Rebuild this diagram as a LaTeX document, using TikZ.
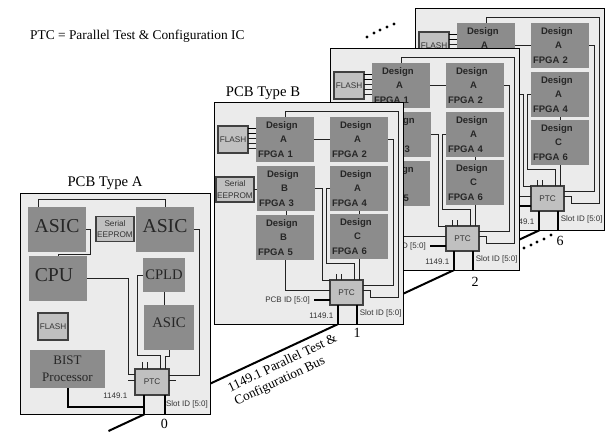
\documentclass[tikz,border=0pt]{standalone}
\usepackage{fontspec}
\setmainfont{Liberation Serif}
\setsansfont{Liberation Sans}
\usetikzlibrary{calc}
\definecolor{boardgray}{HTML}{EBEBEB}
\definecolor{fpgagray}{HTML}{8C8C8C}
\definecolor{chipgray}{HTML}{C0C0C0}
\definecolor{wirecol}{HTML}{222222}
\definecolor{smalltext}{HTML}{333333}
\newcommand{\fpgatext}[2]{\hspace*{10pt}Design\\\hspace*{24pt}#1\\\hspace*{2pt}FPGA #2}
\tikzset{
  board/.style={draw=black,fill=boardgray,line width=0.9pt,inner sep=0,outer sep=0},
  fpgabox/.style={fill=fpgagray,minimum width=58pt,minimum height=45pt,inner sep=0,outer sep=0,text width=58pt,align=left,text=black!85,font=\sffamily\bfseries\fontsize{9.5}{14.3}\selectfont},
  hardbox/.style={fill=fpgagray,inner sep=0,outer sep=0,align=center,text=black!85},
  chip/.style={draw=black!75,fill=chipgray,line width=1.1pt,inner sep=0,outer sep=0,align=center,text=black!80,font=\sffamily\fontsize{8.2}{11.5}\selectfont},
  wire/.style={draw=wirecol,line width=0.8pt},
  heavy/.style={draw=black,line width=2pt},
  tinytext/.style={inner sep=0,text=smalltext,font=\sffamily\fontsize{8}{10}\selectfont},
  numtext/.style={inner sep=0,font=\fontsize{14}{16}\selectfont},
  titletext/.style={inner sep=0,font=\fontsize{14.7}{17}\selectfont},
  dotmark/.style={circle,fill=black,minimum size=3.4pt,inner sep=0}
}
\newcommand{\cardtypeb}[4]{%
\begin{scope}[shift={#1},name prefix=#2-]
  \node[board,minimum width=189pt,minimum height=222pt] (brd) at (308.5,213) {};
  \node[fpgabox] (f1) at (285,139.5) {\fpgatext{A}{1}};
  \node[fpgabox] (f2) at (359,139.5) {\fpgatext{A}{2}};
  \node[fpgabox] (f3) at (286,188.5) {\fpgatext{B}{3}};
  \node[fpgabox] (f4) at (359,188.5) {\fpgatext{A}{4}};
  \node[fpgabox] (f5) at (285,237.5) {\fpgatext{B}{5}};
  \node[fpgabox] (f6) at (359,236.5) {\fpgatext{C}{6}};
  \node[chip,minimum width=30pt,minimum height=27pt] (flash) at (233,139.5) {FLASH};
  \node[chip,minimum width=38pt,minimum height=25pt] (eeprom) at (235,189.5) {Serial\\EEPROM};
  \node[chip,minimum width=33pt,minimum height=25pt] (ptc) at (346.5,292.5) {PTC};
  \coordinate (tapa) at ($(ptc.south)+(-8.2,0)$);
  \coordinate (tapb) at ($(ptc.south)+(10.5,0)$);
  \draw[wire] (f1.north) -- ++(0,-5.5) -| ($(ptc.east)+(35.7,0)$) |- ($(ptc.east)+(7.3,4.8)$) |- ($(ptc.east)+(0,-2.5)$);
  \draw[wire] (f2.east) -- ++(5.3,0) |- ($(ptc.east)+(0,-7.5)$);
  \draw[wire] (f1.east) -- (f2.west);
  \draw[wire] (f3.east) -- ++(7.3,0) |- (ptc.north west);
  \draw[wire] (f4.west) -- ++(-3.7,0) |- ($(ptc.north)+(7.5,-16.3)$) -- ($(ptc.north)+(7.5,0)$);
  \draw[wire] (f6.south) -- (f6.south |- ptc.north);
  \draw[wire] (f5.south) |- ($(ptc.west)+(0,-2.5)$);
  \draw[wire] (f3.south) -- (f3.south |- f5.north);
  \draw[wire] (f4.south) -- (f4.south |- f6.north);
  \draw[wire] (eeprom.east) -- (eeprom.east -| f3.west);
  \foreach \off in {4,9,-1} \draw[wire] ($(flash.east)+(0,\off)$) -- ($(flash.east)+(8.3,\off)$);
  \foreach \off in {-11,-6} \draw[heavy,line width=1.6pt] ($(flash.east)+(0,\off)$) -- ($(flash.east)+(8.3,\off)$);
  \foreach \off in {-10,-5} \draw[wire] ($(ptc.north)+(\off,0)$) -- ++(0,-6.3);
  \draw[heavy] ($(ptc.west)+(0,7.5)$) -- ++(-16.3,0);
  \draw[heavy] (tapa) -- (tapa |- brd.south);
  \draw[heavy] (tapb) -- (tapb |- brd.south);
  \node[tinytext,anchor=east] (pcbid) at (310,300.7) {PCB ID [5:0]};
  \node[tinytext] (jtag) at (321.3,315.7) {1149.1};
  \node[tinytext] (slot) at (380.7,313.3) {Slot ID [5:0]};
  \node[numtext] (num) at #4 {#3};
\end{scope}}
\begin{document}
\begin{tikzpicture}[x=1pt,y=-1pt]
  \useasboundingbox (0,0) rectangle (605,431);
  \coordinate (busa) at (108.5,431);
  \coordinate (busz) at (540,230);
  \draw[heavy] (busa) -- (busz);
  \cardtypeb{(201,-94)}{s}{6}{(359,335)}
  \cardtypeb{(116,-54)}{r}{2}{(359,336)}
  \cardtypeb{(0,0)}{q}{1}{(357,333)}
  % PCB Type A
  \node[board,minimum width=190pt,minimum height=221pt] (brd) at (115,303.5) {};
  \node[hardbox,minimum width=58pt,minimum height=45pt,font=\fontsize{19.7}{22}\selectfont] (a1) at (57,229.5) {\raisebox{7pt}{ASIC}};
  \node[hardbox,minimum width=58pt,minimum height=45pt,font=\fontsize{19.7}{22}\selectfont] (a2) at (165,229.5) {\raisebox{7pt}{ASIC}};
  \node[hardbox,minimum width=58pt,minimum height=45pt,font=\fontsize{19.7}{22}\selectfont] (cpu) at (58,278.5) {\raisebox{7pt}{CPU}\hspace{8pt}};
  \node[hardbox,minimum width=42pt,minimum height=34pt,font=\fontsize{14.6}{17}\selectfont] (cpld) at (164,275) {CPLD};
  \node[hardbox,minimum width=50pt,minimum height=45pt,font=\fontsize{14.7}{17}\selectfont] (a3) at (169,327.5) {\raisebox{10pt}{ASIC}};
  \node[hardbox,minimum width=75pt,minimum height=38pt,font=\fontsize{13}{16.7}\selectfont] (bist) at (67.5,369) {BIST\\Processor};
  \node[chip,minimum width=38pt,minimum height=25pt] (eeprom) at (115,229) {Serial\\EEPROM};
  \node[chip,minimum width=30pt,minimum height=27pt] (flash) at (53,326.5) {FLASH};
  \node[chip,minimum width=34pt,minimum height=26pt] (ptc) at (152,382) {PTC};
  \coordinate (tapa) at ($(ptc.south)+(-7.7,0)$);
  \coordinate (tapb) at ($(ptc.south)+(13,0)$);
  \draw[wire] ($(a1.north)+(-18.7,0)$) |- ($(a2.north)+(0,-8)$) -- (a2.north);
  \draw[wire] (a1.east) -- ++(4.7,0) |- ($(cpu.north)+(0,-2)$) -- (cpu.north);
  \draw[wire] (a2.east) -- ++(5.3,0) |- ($(ptc.east)+(0,-7)$);
  \draw[wire] (cpu.east) -- ++(41.7,0) |- ($(ptc.west)+(0,-8)$);
  \draw[wire] (cpld.west) -- ++(-6,0) |- ($(ptc.north)+(8,-14)$) -- ($(ptc.north)+(8,0)$);
  \draw[wire] (cpld.south) -- (cpld.south |- a3.north);
  \draw[wire] (a3.south) -- ++(0,6.7) -| ($(ptc.north)+(13,0)$);
  \foreach \off in {-9.7,-4.3} \draw[wire] ($(ptc.north)+(\off,0)$) -- ++(0,-6.7);
  \draw[wire] ($(ptc.west)+(0,-1.3)$) -- ++(-7,0);
  \draw[wire] ($(ptc.east)+(0,-1.3)$) -- ++(7,0);
  \draw[heavy] (bist.south) |- ($(tapa)+(0,11.7)$);
  \draw[heavy] (tapa) -- (tapa |- brd.south);
  \draw[heavy] (tapb) -- (tapb |- brd.south);
  \node[tinytext] (jtag) at (115.3,395.3) {1149.1};
  \node[tinytext] (slot) at (187,404.7) {Slot ID [5:0]};
  \node[numtext] (num) at (164.3,424) {0};
  % Titles and notes
  \node[titletext] (ta) at (105,183) {PCB Type A};
  \node[titletext] (tb) at (263,93) {PCB Type B};
  \node[inner sep=0,anchor=west,font=\fontsize{13.4}{15}\selectfont] (note) at (30,36.5) {PTC = Parallel Test \& Configuration IC};
  \node[inner sep=0,rotate=25.5,anchor=west,align=left,font=\fontsize{13.3}{15}\selectfont] (buslabel) at (232,396) {1149.1 Parallel Test \&\\Configuration Bus};
  \foreach \px/\py in {367/37,374/33,380/30,387/27,394/24,524/248,531/245,537/242,544/239,551/235}
    \node[dotmark] at (\px,\py) {};
\end{tikzpicture}
\end{document}
